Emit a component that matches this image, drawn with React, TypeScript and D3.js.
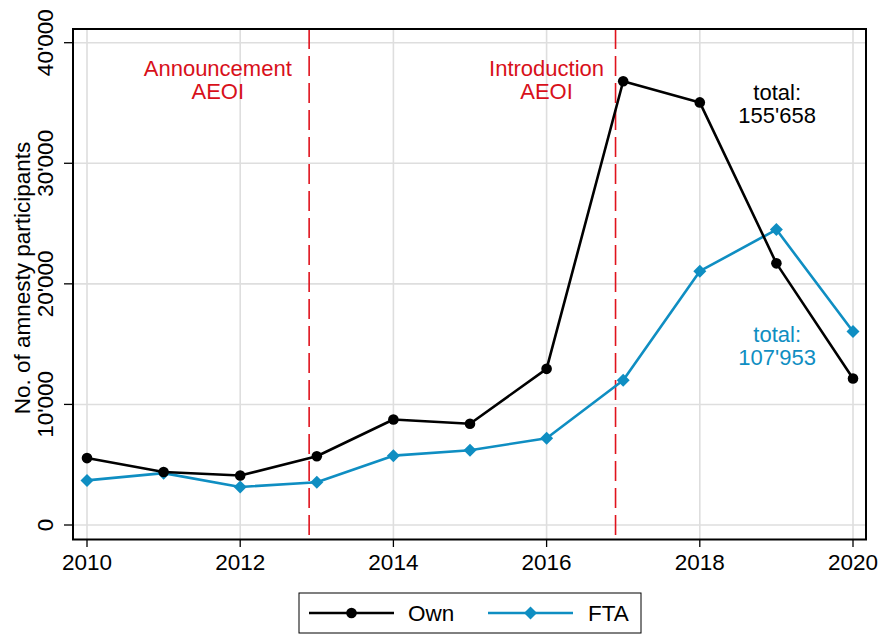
import React from "react";
import * as d3 from "d3";

const years = [2010, 2011, 2012, 2013, 2014, 2015, 2016, 2017, 2018, 2019, 2020];
const ownValues = [5550, 4400, 4100, 5700, 8750, 8400, 12950, 36800, 35050, 21700, 12150];
const ftaValues = [3700, 4300, 3150, 3550, 5750, 6200, 7200, 12000, 21050, 24500, 16050];
const xTicks = [2010, 2012, 2014, 2016, 2018, 2020];
const yTicks = [0, 10000, 20000, 30000, 40000];
const eventYears = [2012.9, 2016.9];
const eventLabels = [["Announcement", "AEOI"], ["Introduction", "AEOI"]];
const eventLabelX = [2011.707, 2015.999];
const totals = [
  { lines: ["total:", "155'658"], year: 2019.01, value: 35250, color: "#000000" },
  { lines: ["total:", "107'953"], year: 2019.01, value: 15200, color: "#0f8ec2" },
];

const BLUE = "#0f8ec2";
const RED = "#e0131d";
const FONT = "Liberation Sans, Arial, sans-serif";
const FS = 22.5;

const fmt = (v: number) => {
  const s = String(v);
  return s.length > 3 ? s.slice(0, s.length - 3) + "'" + s.slice(-3) : s;
};

export default function App() {
  const W = 880, H = 635;
  const left = 73, right = 866, top = 29, bottom = 539.5;
  const x = d3.scaleLinear().domain([2010, 2020]).range([87, 853]);
  const y = d3.scaleLinear().domain([0, 40000]).range([525, 42.7]);

  const line = d3.line<number>().x((_, i) => x(years[i])).y((d) => y(d));
  const ownPath = line(ownValues) || "";
  const ftaPath = line(ftaValues) || "";
  const diamond = (cx: number, cy: number, r: number) =>
    `M${cx},${cy - r}L${cx + r},${cy}L${cx},${cy + r}L${cx - r},${cy}Z`;

  return (
    <svg width={W} height={H} style={{ position: "absolute", left: 0, top: 0 }} fontFamily={FONT}>
      <rect x={0} y={0} width={W} height={H} fill="#ffffff" />
      {/* grid */}
      {xTicks.map((t) => (
        <line key={"gx" + t} x1={x(t)} x2={x(t)} y1={top} y2={bottom} stroke="#dedede" strokeWidth={1.6} />
      ))}
      {yTicks.map((t) => (
        <line key={"gy" + t} x1={left} x2={right} y1={y(t)} y2={y(t)} stroke="#dedede" strokeWidth={1.6} />
      ))}
      {/* event lines */}
      {eventYears.map((e, i) => (
        <g key={"ev" + i}>
          <line x1={x(e)} x2={x(e)} y1={top} y2={bottom} stroke={RED} strokeWidth={1.6} strokeDasharray="20,7" />
          {eventLabels[i].map((s, j) => (
            <text key={j} x={x(eventLabelX[i])} y={76 + j * 23} textAnchor="middle" fontSize={22} fill="#d8101a">{s}</text>
          ))}
        </g>
      ))}
      {/* totals */}
      {totals.map((t, i) => (
        <g key={"tot" + i}>
          {t.lines.map((s, j) => (
            <text key={j} x={x(t.year)} y={y(t.value) + j * 23} textAnchor="middle" fontSize={22} fill={t.color}>{s}</text>
          ))}
        </g>
      ))}
      {/* series */}
      <path d={ftaPath} fill="none" stroke={BLUE} strokeWidth={2.6} strokeLinejoin="round" />
      {ftaValues.map((v, i) => (
        <path key={"fd" + i} d={diamond(x(years[i]), y(v), 6.5)} fill={BLUE} />
      ))}
      <path d={ownPath} fill="none" stroke="#000" strokeWidth={2.6} strokeLinejoin="round" />
      {ownValues.map((v, i) => (
        <circle key={"oc" + i} cx={x(years[i])} cy={y(v)} r={5.3} fill="#000" />
      ))}
      {/* frame */}
      <rect x={left} y={top} width={right - left} height={bottom - top} fill="none" stroke="#000" strokeWidth={2} />
      {/* y axis ticks & labels */}
      {yTicks.map((t) => (
        <g key={"yt" + t}>
          <line x1={64} x2={left} y1={y(t)} y2={y(t)} stroke="#000" strokeWidth={1.3} />
          <text transform={`translate(53,${y(t)}) rotate(-90)`} textAnchor="middle" fontSize={FS} fill="#000">{fmt(t)}</text>
        </g>
      ))}
      <text transform={`translate(30,278) rotate(-90)`} textAnchor="middle" fontSize={FS} fill="#000">No. of amnesty participants</text>
      {/* x axis ticks & labels */}
      {xTicks.map((t) => (
        <g key={"xt" + t}>
          <line x1={x(t)} x2={x(t)} y1={bottom} y2={547} stroke="#000" strokeWidth={1.3} />
          <text x={x(t)} y={570} textAnchor="middle" fontSize={FS} fill="#000">{t}</text>
        </g>
      ))}
      {/* legend */}
      <rect x={299} y={593} width={342} height={40} fill="#fff" stroke="#000" strokeWidth={1} />
      <line x1={309} x2={394} y1={613} y2={613} stroke="#000" strokeWidth={2.6} />
      <circle cx={351.5} cy={613} r={5.3} fill="#000" />
      <text x={408} y={621} fontSize={FS} fill="#000">Own</text>
      <line x1={488} x2={573} y1={613} y2={613} stroke={BLUE} strokeWidth={2.6} />
      <path d={diamond(530.5, 613, 6.5)} fill={BLUE} />
      <text x={588} y={621} fontSize={FS} fill="#000">FTA</text>
    </svg>
  );
}
